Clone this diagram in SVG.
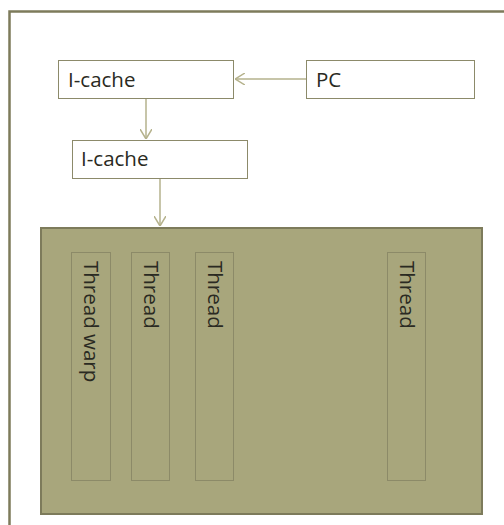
<svg xmlns="http://www.w3.org/2000/svg" width="504" height="525" viewBox="0 0 504 525">
<defs>
<style>
.frame{fill:none;stroke:#7d7b5b;stroke-width:2.5}
.box{fill:#ffffff;stroke:#8c8a6a;stroke-width:1}
.core{fill:#a8a67c;stroke:#7d7b5b;stroke-width:2}
.thread{fill:none;stroke:#8c8a68;stroke-width:1}
.lbl{font-family:"Open Sans","Liberation Sans",sans-serif;font-size:20.5px;fill:#2a2a22}
.conn{stroke:#b5b28c;stroke-width:1.5;fill:none}
</style>
<marker id="arr" viewBox="0 0 10 12" refX="10" refY="6" markerWidth="10" markerHeight="12" markerUnits="userSpaceOnUse" orient="auto">
<path d="M0,0 L10,6 L0,12" fill="none" stroke="#b5b28c" stroke-width="1.5"/>
</marker>
</defs>
<path class="frame" d="M9.5,530 V11.5 H510"/>
<g id="icache1">
<rect class="box" x="58.5" y="60.5" width="175" height="38"/>
<text class="lbl" x="68" y="87">I-cache</text>
</g>
<g id="pc">
<rect class="box" x="306.5" y="60.5" width="168" height="38"/>
<text class="lbl" x="316" y="87">PC</text>
</g>
<g id="icache2">
<rect class="box" x="72.5" y="140.5" width="175" height="38"/>
<text class="lbl" x="81" y="166">I-cache</text>
</g>
<g id="core">
<rect class="core" x="41" y="228" width="441" height="286"/>
</g>
<g id="thread-warp">
<rect class="thread" x="71.5" y="252.5" width="39" height="228"/>
<text class="lbl" transform="translate(84,261) rotate(90)">Thread warp</text>
</g>
<g id="thread2">
<rect class="thread" x="131.5" y="252.5" width="38" height="228"/>
<text class="lbl" transform="translate(143.5,261) rotate(90)">Thread</text>
</g>
<g id="thread3">
<rect class="thread" x="195.5" y="252.5" width="38" height="228"/>
<text class="lbl" transform="translate(207.5,261) rotate(90)">Thread</text>
</g>
<g id="thread4">
<rect class="thread" x="387.5" y="252.5" width="38" height="228"/>
<text class="lbl" transform="translate(399.5,261) rotate(90)">Thread</text>
</g>
<g id="connectors">
<line class="conn" x1="306" y1="79" x2="235" y2="79" marker-end="url(#arr)"/>
<line class="conn" x1="146" y1="99" x2="146" y2="139" marker-end="url(#arr)"/>
<line class="conn" x1="160" y1="179" x2="160" y2="226" marker-end="url(#arr)"/>
</g>
</svg>
